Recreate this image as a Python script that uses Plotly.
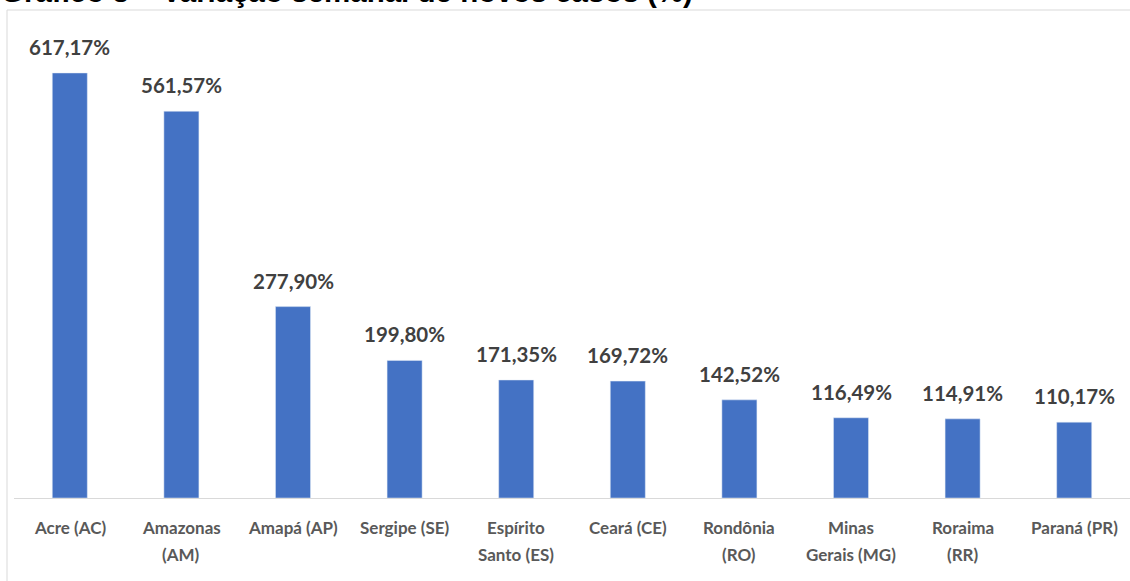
import plotly.graph_objects as go

categories = ["Acre (AC)", "Amazonas (AM)", "Amapá (AP)", "Sergipe (SE)", "Espírito Santo (ES)",
              "Ceará (CE)", "Rondônia (RO)", "Minas Gerais (MG)", "Roraima (RR)", "Paraná (PR)"]
label_line1 = ["Acre (AC)", "Amazonas", "Amapá (AP)", "Sergipe (SE)", "Espírito",
               "Ceará (CE)", "Rondônia", "Minas", "Roraima", "Paraná (PR)"]
label_line2 = ["", "(AM)", "", "", "Santo (ES)", "", "(RO)", "Gerais (MG)", "(RR)", ""]
values = [617.17, 561.57, 277.90, 199.80, 171.35, 169.72, 142.52, 116.49, 114.91, 110.17]
value_labels = ["617,17%", "561,57%", "277,90%", "199,80%", "171,35%",
                "169,72%", "142,52%", "116,49%", "114,91%", "110,17%"]
title_text = "Gráfico 3 – Variação semanal de novos casos (%)"

W, H = 1130, 581
ML, MR, MT, MB = 14, 0, 10, 83
plot_w = W - ML - MR
plot_h = H - MT - MB

fig = go.Figure()
fig.add_trace(go.Bar(
    x=categories, y=values, marker_color="#4472c4", width=0.314,
    hoverinfo="skip",
))

annotations = []
for c, v, t in zip(categories, values, value_labels):
    annotations.append(dict(x=c, y=v, xref="x", yref="y", text=t, showarrow=False,
                            yanchor="middle", yshift=26,
                            font=dict(family="Lato", size=20.5, color="#404040", weight="bold")))
for c, l1, l2 in zip(categories, label_line1, label_line2):
    annotations.append(dict(x=c, y=0, xref="x", yref="paper", text=l1, showarrow=False,
                            yanchor="middle", yshift=-29,
                            font=dict(family="Lato", size=17, color="#595959", weight="bold")))
    if l2:
        annotations.append(dict(x=c, y=0, xref="x", yref="paper", text=l2, showarrow=False,
                                yanchor="middle", yshift=-56,
                                font=dict(family="Lato", size=17, color="#595959", weight="bold")))
annotations.append(dict(x=0, y=1, xref="paper", yref="paper", text=title_text, showarrow=False,
                        xanchor="left", yanchor="middle", xshift=-ML - 1, yshift=19,
                        font=dict(family="Liberation Sans", size=29.5, color="#000000", weight="bold")))

fig.update_layout(
    width=W, height=H,
    margin=dict(l=ML, r=MR, t=MT, b=MB, pad=0),
    paper_bgcolor="white", plot_bgcolor="white",
    showlegend=False,
    bargap=0.69,
    annotations=annotations,
    shapes=[dict(type="rect", xref="paper", yref="paper",
                 x0=-7 / plot_w, x1=1.05, y0=-0.3, y1=1.0,
                 line=dict(color="#d9d9d9", width=1), fillcolor="rgba(0,0,0,0)", layer="below")],
    xaxis=dict(range=[-0.5, 9.5], showticklabels=False, ticks="", showgrid=False,
               showline=True, linecolor="#d9d9d9", linewidth=1, zeroline=False, fixedrange=True),
    yaxis=dict(range=[0, plot_h / 0.6887], visible=False, showgrid=False, zeroline=False,
               fixedrange=True),
)

fig.write_html("out.html", config={"displayModeBar": False},
               post_script="document.body.style.margin='0';document.body.style.overflow='hidden';")
